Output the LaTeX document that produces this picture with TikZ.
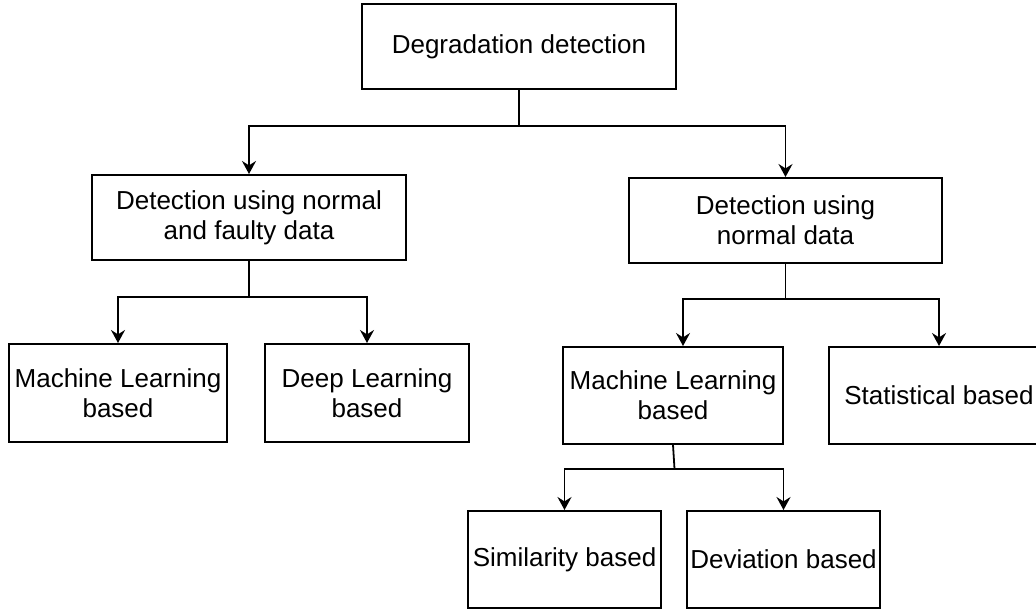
\documentclass[tikz,border=0pt]{standalone}
\usepackage{fontspec}
\setmainfont{Liberation Sans}
\usetikzlibrary{arrows.meta}

\begin{document}
\begin{tikzpicture}[x=0.5pt,y=-0.5pt,
  box/.style={draw,line width=1pt,align=center,inner sep=0pt,font=\fontsize{13}{15}\selectfont},
  arr/.style={line width=0.9pt,-{Stealth[length=6.5pt,width=7pt,inset=2.2pt]}},
  bus/.style={line width=0.9pt}]
  \useasboundingbox (0,0) rectangle (1036,610);
  % boxes
  \node[box,minimum width=157pt,minimum height=42.5pt] (top) at (519,46.5) {Degradation detection};
  \node[box,minimum width=157pt,minimum height=42.5pt] (faulty) at (249,217.5) {Detection using normal\\and faulty data};
  \node[box,minimum width=156.5pt,minimum height=42.5pt] (normal) at (785.5,220.5) {Detection using\\normal data};
  \node[box,minimum width=109pt,minimum height=49pt] (mlA) at (118,393) {Machine Learning\\based};
  \node[box,minimum width=102pt,minimum height=49pt] (dl) at (367,393) {Deep Learning\\based};
  \node[box,minimum width=110pt,minimum height=48.5pt] (mlB) at (673,395.5) {Machine Learning\\based};
  \node[box,minimum width=110pt,minimum height=48.5pt] (stat) at (939,395.5) {Statistical based};
  \node[box,minimum width=96.5pt,minimum height=48.5pt] (sim) at (564.5,559.5) {Similarity based};
  \node[box,minimum width=96.5pt,minimum height=48.5pt] (dev) at (783.5,559.5) {Deviation based};
  % connectors
  \coordinate (b1) at (519,126); \coordinate (b2) at (249,297);
  \coordinate (b3) at (785.5,299); \coordinate (b4) at (674.5,469);
  \draw[bus] (top.south) -- (b1); \draw[bus] (faulty.south) -- (b2);
  \draw[bus] (normal.south) -- (b3); \draw[bus] (mlB.south) -- (b4);
  \foreach \t in {faulty,normal} \draw[arr] (b1) -| (\t.north);
  \foreach \t in {mlA,dl} \draw[arr] (b2) -| (\t.north);
  \draw[arr] (b3) -| ([xshift=5pt]mlB.north); \draw[arr] (b3) -| (stat.north);
  \foreach \t in {sim,dev} \draw[arr] (b4) -| (\t.north);
\end{tikzpicture}
\end{document}
